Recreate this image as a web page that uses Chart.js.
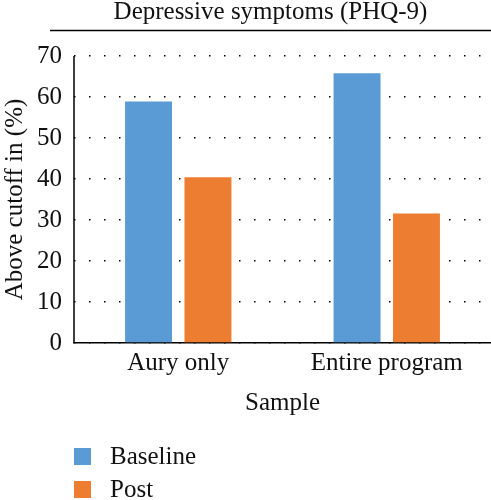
<!DOCTYPE html>
<html>
<head>
<meta charset="utf-8">
<script src="https://cdn.jsdelivr.net/npm/chart.js@4"></script>
<style>
  body { margin: 0; background: #fff; }
  #wrap { width: 491px; height: 500px; }
</style>
</head>
<body>
<div id="wrap"><canvas id="grafico"></canvas></div>
<script>
const categorias = ['Aury only', 'Entire program']
const baseline = [58.9, 65.8]
const post = [40.4, 31.6]
const serieNomes = ['Baseline', 'Post']
const yTicks = [0, 10, 20, 30, 40, 50, 60, 70]
const titulo = 'Depressive symptoms (PHQ-9)'

const fonte = 'Liberation Serif'
const tam = 25

// titulo com linha embaixo, eixo y e legenda vertical desenhados a mao
const extras = {
  id: 'extras',
  afterDraw(chart) {
    const ctx = chart.ctx
    const area = chart.chartArea
    ctx.save()
    ctx.strokeStyle = '#000'
    ctx.lineWidth = 1.5
    ctx.beginPath()
    ctx.moveTo(50, 30.5)
    ctx.lineTo(491, 30.5)
    ctx.moveTo(area.left, area.top)
    ctx.lineTo(area.left, area.bottom)
    ctx.stroke()

    ctx.font = tam + 'px "' + fonte + '"'
    ctx.textBaseline = 'middle'
    ctx.textAlign = 'center'
    ctx.fillStyle = '#111'
    ctx.fillText(titulo, 270.5, 12)

    ctx.textAlign = 'left'
    chart.data.datasets.forEach((ds, i) => {
      const y = 448 + i * 33
      ctx.fillStyle = ds.backgroundColor
      ctx.fillRect(74, y, 17, 17)
      ctx.fillStyle = '#111'
      ctx.fillText(ds.label, 110, y + 9)
    })
    ctx.restore()
  }
}

const ctx = document.getElementById('grafico').getContext('2d')
const meuGrafico = new Chart(ctx, {
  type: 'bar',
  data: {
    labels: categorias,
    datasets: [{
      label: serieNomes[0],
      data: baseline,
      backgroundColor: '#5B9BD5',
      categoryPercentage: 0.57,
      barPercentage: 0.79
    }, {
      label: serieNomes[1],
      data: post,
      backgroundColor: '#ED7D31',
      categoryPercentage: 0.57,
      barPercentage: 0.79
    }]
  },
  options: {
    responsive: true,
    maintainAspectRatio: false,
    animation: false,
    layout: {
      padding: { top: 56, right: 0, bottom: 82, left: 0 }
    },
    scales: {
      x: {
        grid: { display: false, drawTicks: false },
        border: { color: '#000', width: 1.5 },
        ticks: {
          color: '#111',
          font: { family: fonte, size: tam },
          padding: 5
        },
        title: {
          display: true,
          text: 'Sample',
          color: '#111',
          font: { family: fonte, size: tam },
          padding: { top: 5, bottom: 0 }
        }
      },
      y: {
        min: 0,
        max: 70,
        afterBuildTicks: (axis) => { axis.ticks = yTicks.map(v => ({ value: v })) },
        afterFit: (axis) => { axis.width = 74 },
        grid: {
          color: '#000',
          lineWidth: 1.5,
          drawTicks: false
        },
        border: { display: false, dash: [1.5, 13.5] },
        ticks: {
          color: '#111',
          font: { family: fonte, size: tam },
          padding: 12
        },
        title: {
          display: true,
          text: 'Above cutoff in (%)',
          color: '#111',
          font: { family: fonte, size: tam },
          padding: { top: 0, bottom: 0 }
        }
      }
    },
    plugins: {
      legend: { display: false },
      tooltip: { enabled: false },
      title: { display: false }
    }
  },
  plugins: [extras]
})
</script>
</body>
</html>
